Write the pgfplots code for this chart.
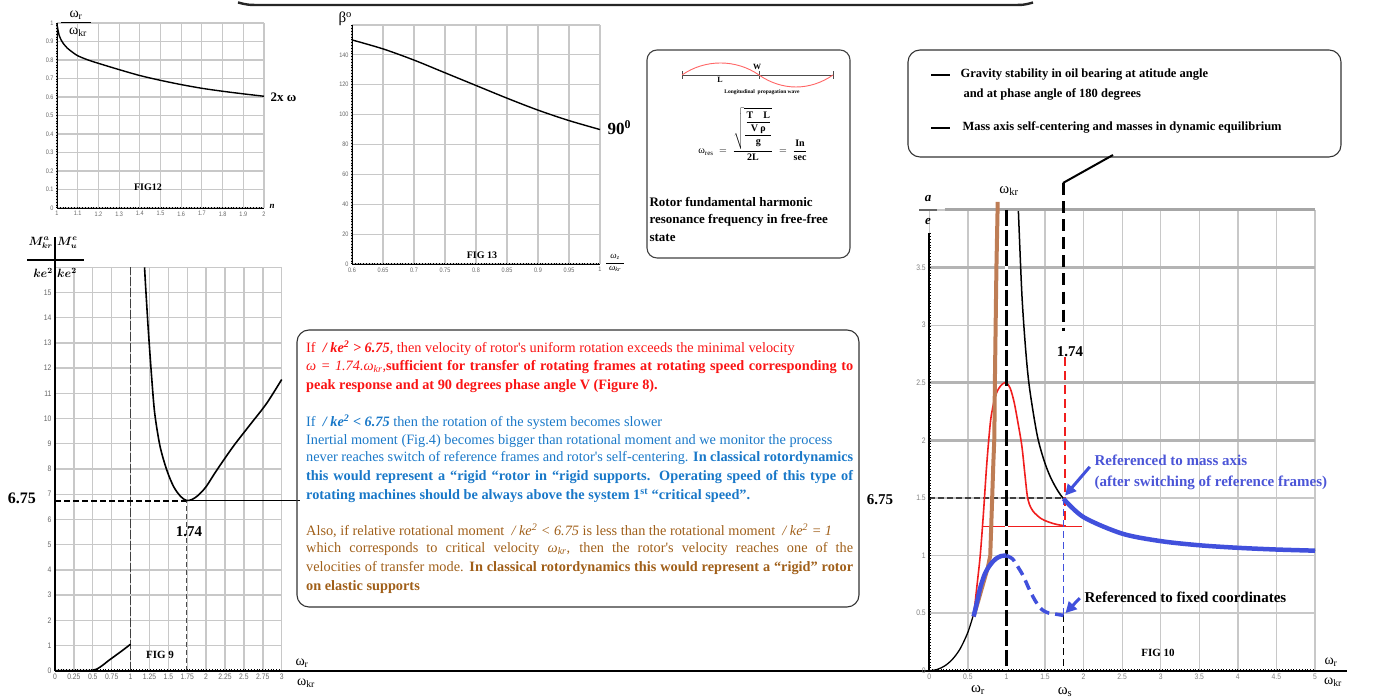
\documentclass[border=0pt]{standalone}
\usepackage{amsmath}
\usepackage{fontspec}
\setmainfont{Liberation Serif}
\newfontfamily\tickfont[FakeStretch=0.85]{Liberation Sans}
\newfontfamily\boxfont{Liberation Serif}
\usepackage{pgfplots}
\pgfplotsset{compat=1.18}
\usetikzlibrary{arrows.meta}

\definecolor{gridgray}{RGB}{200,200,200}
\definecolor{gridmid}{RGB}{180,180,180}
\definecolor{curvered}{RGB}{240,30,30}
\definecolor{curveblue}{RGB}{65,80,220}
\definecolor{curvebrown}{RGB}{190,125,85}
\definecolor{txtred}{RGB}{250,20,20}
\definecolor{txtblue}{RGB}{25,120,200}
\definecolor{txtbrown}{RGB}{160,95,25}
\definecolor{txtmass}{RGB}{75,85,215}

\tikzset{axisdots/.style={line width=2.6pt, dash pattern=on 0.5pt off 2.3pt}}
\pgfplotsset{
  panel/.style={
    scale only axis, anchor=south west, clip=false,
    grid=major,
    major grid style={draw=gridgray, line width=1.1pt},
    axis line style={draw=none},
    tick style={draw=none},
    tick label style={font=\tickfont\fontsize{6.5}{7}\selectfont, text=black!60},
    /pgf/number format/assume math mode=true,
  },
}

\begin{document}
\begin{tikzpicture}[x=1pt,y=1pt]
\path[use as bounding box] (0,0) rectangle (1392,700);

% ---------- rule across the top ----------
\draw[line width=2.4pt, black!85] (238,697.5) .. controls (248,695) .. (262,695) -- (1010,695) .. controls (1024,695) .. (1033,697.5);

% ================= FIG 12 =================
\begin{axis}[panel, at={(57pt,492pt)}, width=207pt, height=185pt,
  xmin=1, xmax=2, ymin=0, ymax=1,
  xtick={1,1.1,1.2,1.3,1.4,1.5,1.6,1.7,1.8,1.9,2},
  xticklabels={1,1.1,1.2,1.3,1.4,1.5,1.6,1.7,1.8,1.9,2},
  ytick={0,0.1,0.2,0.3,0.4,0.5,0.6,0.7,0.8,0.9,1},
  yticklabels={0,0.1,0.2,0.3,0.4,0.5,0.6,0.7,0.8,0.9,1}]
  \draw[black, line width=0.9pt] (axis cs:1,0) -- (axis cs:1,1);
  \draw[black, line width=0.9pt] (axis cs:1,0) -- (axis cs:2,0);
  \draw[axisdots] (axis cs:1,0) -- (axis cs:1,1);
  \draw[axisdots] (axis cs:1,0) -- (axis cs:2,0);
  \addplot[black, line width=1.4pt, smooth] coordinates {
    (1,0.995) (1.005,0.96) (1.01,0.935) (1.02,0.908) (1.03,0.89) (1.05,0.864)
    (1.075,0.842) (1.1,0.823) (1.15,0.80) (1.2,0.782) (1.3,0.748) (1.4,0.716)
    (1.5,0.690) (1.6,0.667) (1.7,0.647) (1.8,0.631) (1.9,0.617) (2.0,0.604)};
\end{axis}
\node[font=\fontsize{14}{14}\selectfont] at (76,685) {ω\textsubscript{r}};
\draw[line width=1.3pt] (61,677.5) -- (91,677.5);
\node[font=\fontsize{14}{14}\selectfont] at (78,668) {ω\textsubscript{kr}};
\node[anchor=west, font=\bfseries\fontsize{13}{13}\selectfont] at (267,603) {2x ω};
\node[font=\bfseries\fontsize{10}{10}\selectfont] at (148,513) {FIG12};
\node[font=\bfseries\itshape\fontsize{9}{9}\selectfont] at (272,494) {n};

% ================= FIG 13 =================
\begin{axis}[panel, at={(352pt,436pt)}, width=248pt, height=239pt,
  xmin=0.6, xmax=1, ymin=0, ymax=160,
  xtick={0.6,0.65,0.7,0.75,0.8,0.85,0.9,0.95,1},
  xticklabels={0.6,0.65,0.7,0.75,0.8,0.85,0.9,0.95,1},
  ytick={0,20,40,60,80,100,120,140,160},
  yticklabels={0,20,40,60,80,100,120,140,{}}]
  \draw[black, line width=0.9pt] (axis cs:0.6,0) -- (axis cs:0.6,160);
  \draw[black, line width=0.9pt] (axis cs:0.6,0) -- (axis cs:1,0);
  \draw[axisdots] (axis cs:0.6,0) -- (axis cs:0.6,160);
  \draw[axisdots] (axis cs:0.6,0) -- (axis cs:1,0);
  \addplot[black, line width=1.4pt, smooth] coordinates {
    (0.6,150) (0.65,144) (0.7,136.5) (0.75,128) (0.8,119.5)
    (0.85,111) (0.9,103) (0.95,96) (1.0,90)};
\end{axis}
\node[anchor=west, font=\fontsize{15}{15}\selectfont] at (335,681) {β\textsuperscript{o}};
\node[anchor=west, font=\bfseries\fontsize{17}{17}\selectfont] at (604,572) {90\textsuperscript{0}};
\node[font=\bfseries\fontsize{10}{10}\selectfont] at (482,445) {FIG 13};
\node[font=\itshape\fontsize{9}{9}\selectfont] at (615,443) {ω\textsubscript{z}};
\draw[line width=0.7pt] (606,437) -- (624,437);
\node[font=\itshape\fontsize{9}{9}\selectfont] at (615,431) {ω\textsubscript{kr}};

% ================= resonance box =================
\draw[line width=1.1pt, black!75, rounded corners=10pt] (647,442) rectangle (850,650);
\draw[line width=0.8pt, black!70] (682,625) -- (833,625);
\draw[line width=0.8pt, black!70] (682,621) -- (682,629) (759,621) -- (759,629) (833,621) -- (833,629);
\draw[line width=0.9pt, red!60] (682,625) .. controls (705,641) and (736,641) .. (759,625)
  .. controls (782,609) and (810,609) .. (833,625);
\node[font=\bfseries\fontsize{8}{8}\selectfont] at (757,633.5) {W};
\node[font=\bfseries\fontsize{8}{8}\selectfont] at (720,620) {L};
\node[inner sep=1pt, font=\bfseries\fontsize{5.5}{6}\selectfont] at (762,608) {Longitudinal\enspace propagation wave};
\node[inner sep=0pt, font=\fontsize{10}{12}\selectfont] at (753,566) {$\text{ω}_{\text{res}} \;=\; \dfrac{\sqrt{\dfrac{\dfrac{\textbf{T\quad L}}{\textbf{V ρ}}}{\textbf{g}}}}{\textbf{2L}} \;=\; \dfrac{\textbf{In}}{\textbf{sec}}$};
\node[anchor=west, font=\bfseries\fontsize{13}{13}\selectfont] at (646,498) {Rotor fundamental harmonic};
\node[anchor=west, font=\bfseries\fontsize{13}{13}\selectfont] at (646,480) {resonance frequency in free-free};
\node[anchor=west, font=\bfseries\fontsize{13}{13}\selectfont] at (646,462) {state};

% ================= legend box (top right) =================
\draw[line width=1.1pt, black!80, rounded corners=12pt] (908,543) rectangle (1341,650);
\draw[line width=2.6pt] (931,625) -- (950,625);
\draw[line width=2.6pt] (931,572) -- (950,572);
\node[anchor=west, font=\bfseries\fontsize{12.5}{13}\selectfont] at (957,625) {Gravity stability in oil bearing at atitude angle};
\node[anchor=west, font=\bfseries\fontsize{12.5}{13}\selectfont] at (960,606) {and at phase angle of 180 degrees};
\node[anchor=west, font=\bfseries\fontsize{12.5}{13}\selectfont] at (959,573) {Mass axis self-centering and masses in dynamic equilibrium};

% ================= FIG 9 =================
\begin{axis}[panel, at={(55pt,29.3pt)}, width=226.7pt, height=403.4pt,
  xmin=0, xmax=3, ymin=0, ymax=16,
  major grid style={draw=gridgray, line width=1.4pt},
  tick label style={font=\tickfont\fontsize{8}{8}\selectfont, text=black!60},
  xtick={0,0.25,0.5,0.75,1,1.25,1.5,1.75,2,2.25,2.5,2.75,3},
  xticklabels={0,0.25,0.5,0.75,1,1.25,1.5,1.75,2,2.25,2.5,2.75,3},
  ytick={0,1,2,3,4,5,6,7,8,9,10,11,12,13,14,15,16},
  yticklabels={0,1,2,3,4,5,6,7,8,9,10,11,12,13,14,15,{}}]
  \draw[black!75, line width=1.2pt, dash pattern=on 9pt off 2pt] (axis cs:1,0) -- (axis cs:1,16);
  \draw[black, line width=2pt] (axis cs:0,0) -- (axis cs:0,17.2);
  \draw[black!70, line width=1.3pt, dash pattern=on 5pt off 3pt] (axis cs:1.74,0) -- (axis cs:1.74,6.75);
  \draw[black, line width=2pt, dash pattern=on 6pt off 3pt] (axis cs:0,6.75) -- (axis cs:1.74,6.75);
  \draw[black, line width=0.8pt] (axis cs:1.74,6.75) -- (axis cs:3.24,6.75);
  \draw[axisdots] (axis cs:0,0) -- (axis cs:3,0);
  \addplot[black, line width=1.6pt, smooth] coordinates {
    (0,0) (0.45,0) (0.5,0.02) (0.55,0.06) (0.6,0.15) (0.65,0.26) (0.7,0.38)
    (0.8,0.6) (0.9,0.82) (1.0,1.05)};
  \addplot[black, line width=1.6pt, smooth] coordinates {
    (1.185,16) (1.2,15.2) (1.235,13.5) (1.28,11.6) (1.32,10.2) (1.39,8.9)
    (1.48,7.95) (1.57,7.3) (1.66,6.92) (1.74,6.75) (1.82,6.8) (1.9,6.97)
    (2.0,7.3) (2.14,7.95) (2.36,8.9) (2.58,9.75) (2.8,10.6) (3.0,11.55)};
\end{axis}
% baseline shared by the lower panels
\draw[black, line width=2pt] (55,29.3) -- (929.3,29.3);
\node[anchor=east, inner sep=0.5pt, font=\fontsize{12}{12}\selectfont] at (53.5,457) {$\boldsymbol{M^{a}_{kr}}$};
\node[anchor=west, inner sep=0.5pt, font=\fontsize{12}{12}\selectfont] at (56.5,457) {$\boldsymbol{M^{e}_{u}}$};
\draw[line width=1.3pt] (27,440) -- (84,440);
\node[anchor=east, inner sep=0.5pt, font=\fontsize{12}{12}\selectfont] at (53.5,427) {$\boldsymbol{ke^{2}}$};
\node[anchor=west, inner sep=0.5pt, font=\fontsize{12}{12}\selectfont] at (56.5,427) {$\boldsymbol{ke^{2}}$};
\node[font=\bfseries\fontsize{16}{16}\selectfont] at (22,202) {6.75};
\node[font=\bfseries\fontsize{15}{15}\selectfont] at (189,168) {1.74};
\node[font=\bfseries\fontsize{11}{11}\selectfont] at (160,45) {FIG 9};
\node[font=\fontsize{14}{14}\selectfont] at (302,37) {ω\textsubscript{r}};
\node[font=\fontsize{14}{14}\selectfont] at (306,17) {ω\textsubscript{kr}};

% ================= text box =================
\draw[line width=1.1pt, black!80, rounded corners=12pt] (297,93) rectangle (859,370);
\begin{scope}[every node/.style={anchor=west, inner sep=0pt, font=\boxfont\fontsize{14.3}{14.3}\selectfont}]
\node[text=txtred] at (306,352) {If \ \textbf{\textit{/ ke\textsuperscript{2} > 6.75}}, then velocity of rotor's uniform rotation exceeds the minimal velocity};
\node[text=txtred] at (306,333) {\makebox[547pt][s]{\textit{ω = 1.74.ω\textsubscript{kr},}\textbf{sufficient for transfer of rotating frames at rotating speed corresponding to}}};
\node[text=txtred] at (306,314) {\textbf{peak response and at 90 degrees phase angle V (Figure 8).}};
\node[text=txtblue] at (306,278) {If \ \textbf{\textit{/ ke\textsuperscript{2} < 6.75}} then the rotation of the system becomes slower};
\node[text=txtblue] at (306,259) {Inertial moment (Fig.4) becomes bigger than rotational moment and we monitor the process};
\node[text=txtblue] at (306,242) {\makebox[547pt][s]{never reaches switch of reference frames and rotor's self-centering. \textbf{In classical rotordynamics}}};
\node[text=txtblue] at (306,223) {\makebox[547pt][s]{\textbf{this would represent a “rigid “rotor in “rigid supports. Operating speed of this type of}}};
\node[text=txtblue] at (306,204) {\textbf{rotating machines should be always above the system 1\textsuperscript{st} “critical speed”.}};
\node[text=txtbrown] at (306,169) {Also, if relative rotational moment \ \textit{/ ke\textsuperscript{2} < 6.75} is less than the rotational moment \ \textit{/ ke\textsuperscript{2} = 1}};
\node[text=txtbrown] at (306,151) {\makebox[547pt][s]{which corresponds to critical velocity \textit{ω\textsubscript{kr}}, then the rotor's velocity reaches one of the}};
\node[text=txtbrown] at (306,132) {\makebox[547pt][s]{velocities of transfer mode. \textbf{In classical rotordynamics this would represent a “rigid” rotor}}};
\node[text=txtbrown] at (306,113) {\textbf{on elastic supports}};
\end{scope}

% ================= FIG 10 =================
\begin{axis}[panel, at={(929.3pt,29.3pt)}, width=385.7pt, height=460.7pt,
  xmin=0, xmax=5, ymin=0, ymax=4,
  major grid style={draw=gridgray, line width=1.3pt},
  tick label style={font=\tickfont\fontsize{8}{8}\selectfont, text=black!50},
  xtick={0,0.5,1,1.5,2,2.5,3,3.5,4,4.5,5},
  xticklabels={0,0.5,1,1.5,2,2.5,3,3.5,4,4.5,5},
  ytick={0,0.5,1,1.5,2,2.5,3,3.5,4},
  yticklabels={0,0.5,1,1.5,2,2.5,3,3.5,{}}]
  % heavier grid rows
  \draw[gridmid, line width=2.6pt] (axis cs:0,2) -- (axis cs:5,2);
  \draw[gridmid, line width=2.6pt] (axis cs:0,2.5) -- (axis cs:5,2.5);
  \draw[gridmid, line width=2.6pt] (axis cs:0,3.5) -- (axis cs:5,3.5);
  \draw[black!35, line width=3pt] (axis cs:0.2,4) -- (axis cs:5,4);
  \draw[black!75, line width=2.2pt, dash pattern=on 6pt off 3pt] (axis cs:0,1.5) -- (axis cs:1.74,1.5);
  % axes
  \draw[black, line width=2.2pt] (axis cs:0,0) -- (axis cs:0,3.8);
  \draw[black, line width=2.2pt] (axis cs:0,0) -- (axis cs:5.41,0);
  \draw[axisdots] (axis cs:0,0) -- (axis cs:0,3.8);
  \draw[axisdots] (axis cs:0,0) -- (axis cs:5,0);
  % response curves
  \addplot[black, line width=1.3pt, smooth] coordinates {
    (0,0) (0.1,0.0101) (0.2,0.0417) (0.3,0.0989) (0.4,0.1905) (0.5,0.3333) (0.574,0.49)};
  \addplot[black, line width=1.5pt, smooth] coordinates {
    (1.155,3.99) (1.2,3.27) (1.25,2.78) (1.3,2.45) (1.4,2.04) (1.5,1.80)
    (1.6,1.64) (1.74,1.493) (2,1.333) (2.5,1.190) (3,1.125) (3.5,1.089)
    (4,1.067) (4.5,1.052) (5,1.042)};
  \addplot[curvered, line width=1.6pt, smooth] coordinates {
    (0.574,0.47) (0.62,0.75) (0.66,1.0) (0.7,1.35) (0.74,1.75) (0.77,2.0)
    (0.8,2.2) (0.85,2.37) (0.9,2.45) (0.95,2.49) (1.0,2.5) (1.05,2.45)
    (1.1,2.33) (1.15,2.15) (1.2,1.95) (1.24,1.7) (1.27,1.52) (1.3,1.44)
    (1.35,1.38) (1.45,1.32) (1.55,1.29) (1.65,1.27) (1.74,1.26)};
  \addplot[curvered, line width=1pt] coordinates {(0.70,1.255) (1.98,1.255)};
  \addplot[curvebrown, line width=4pt] coordinates {
    (0.574,0.47) (0.64,0.62) (0.70,0.76) (0.76,0.9) (0.79,1.0) (0.81,1.4)
    (0.83,1.8) (0.843,2.02) (0.85,2.5) (0.86,3.0) (0.87,3.5) (0.887,4.07)};
  % critical speed marker
  \draw[white, line width=3pt] (axis cs:1,0) -- (axis cs:1,4);
  \draw[black, line width=3pt, dash pattern=on 16pt off 4pt] (axis cs:1,4) -- (axis cs:1,0);
  % switching speed markers
  \draw[curvered, line width=2.6pt, dash pattern=on 9pt off 5pt] (axis cs:1.76,2.72) -- (axis cs:1.76,1.25);
  \draw[black, line width=2.4pt, dash pattern=on 12pt off 6pt] (axis cs:1.74,4.23) -- (axis cs:1.74,2.95);
  \draw[curveblue, line width=1.4pt, dash pattern=on 7pt off 4pt] (axis cs:1.74,1.5) -- (axis cs:1.74,0.48);
  \draw[black, line width=1.4pt, dash pattern=on 7pt off 4pt] (axis cs:1.74,0.48) -- (axis cs:1.74,0);
  \addplot[curveblue, line width=4.5pt, smooth] coordinates {
    (0.574,0.47) (0.62,0.6) (0.66,0.72) (0.72,0.84) (0.79,0.92) (0.86,0.97) (0.93,0.995) (1.0,1.0)};
  \addplot[curveblue, line width=3.5pt, smooth, dash pattern=on 10pt off 6pt] coordinates {
    (1.0,1.0) (1.08,0.97) (1.15,0.9) (1.22,0.82) (1.3,0.7) (1.38,0.6)
    (1.46,0.53) (1.55,0.5) (1.65,0.49) (1.74,0.48)};
  \addplot[curveblue, line width=4.5pt, smooth] coordinates {
    (1.74,1.493) (2,1.333) (2.5,1.190) (3,1.125) (3.5,1.089) (4,1.067) (4.5,1.052) (5,1.042)};
  \draw[curveblue, line width=3pt, -{Triangle[length=11pt, width=11pt]}] (axis cs:2.08,1.77) -- (axis cs:1.76,1.52);
  \draw[curveblue, line width=3pt, -{Triangle[length=11pt, width=11pt]}] (axis cs:1.95,0.63) -- (axis cs:1.765,0.50);
\end{axis}
\draw[black, line width=2pt] (1063,517) -- (1113,545);
\node[font=\bfseries\itshape\fontsize{13}{13}\selectfont] at (928,501) {a};
\draw[line width=1.6pt, black!60] (919,490) -- (937,490);
\node[font=\bfseries\itshape\fontsize{13}{13}\selectfont] at (928,478) {e};
\node[font=\fontsize{15}{15}\selectfont] at (1009,509) {ω\textsubscript{kr}};
\node[font=\bfseries\fontsize{15}{15}\selectfont] at (1070,348) {1.74};
\node[font=\bfseries\fontsize{15}{15}\selectfont] at (880,200) {6.75};
\node[anchor=west, text=txtmass, font=\bfseries\fontsize{15}{15}\selectfont] at (1091,240) {Referenced to mass axis};
\node[anchor=west, text=txtmass, font=\bfseries\fontsize{15}{15}\selectfont] at (1091,217) {(after switching of reference frames)};
\node[anchor=west, font=\bfseries\fontsize{15}{15}\selectfont] at (1081,103) {Referenced to fixed coordinates};
\node[font=\bfseries\fontsize{11}{11}\selectfont] at (1158,47) {FIG 10};
\node[font=\fontsize{15}{15}\selectfont] at (978,10) {ω\textsubscript{r}};
\node[font=\fontsize{15}{15}\selectfont] at (1065,8) {ω\textsubscript{s}};
\node[font=\fontsize{14}{14}\selectfont] at (1331,38) {ω\textsubscript{r}};
\node[font=\fontsize{14}{14}\selectfont] at (1333,18) {ω\textsubscript{kr}};
\end{tikzpicture}
\end{document}
